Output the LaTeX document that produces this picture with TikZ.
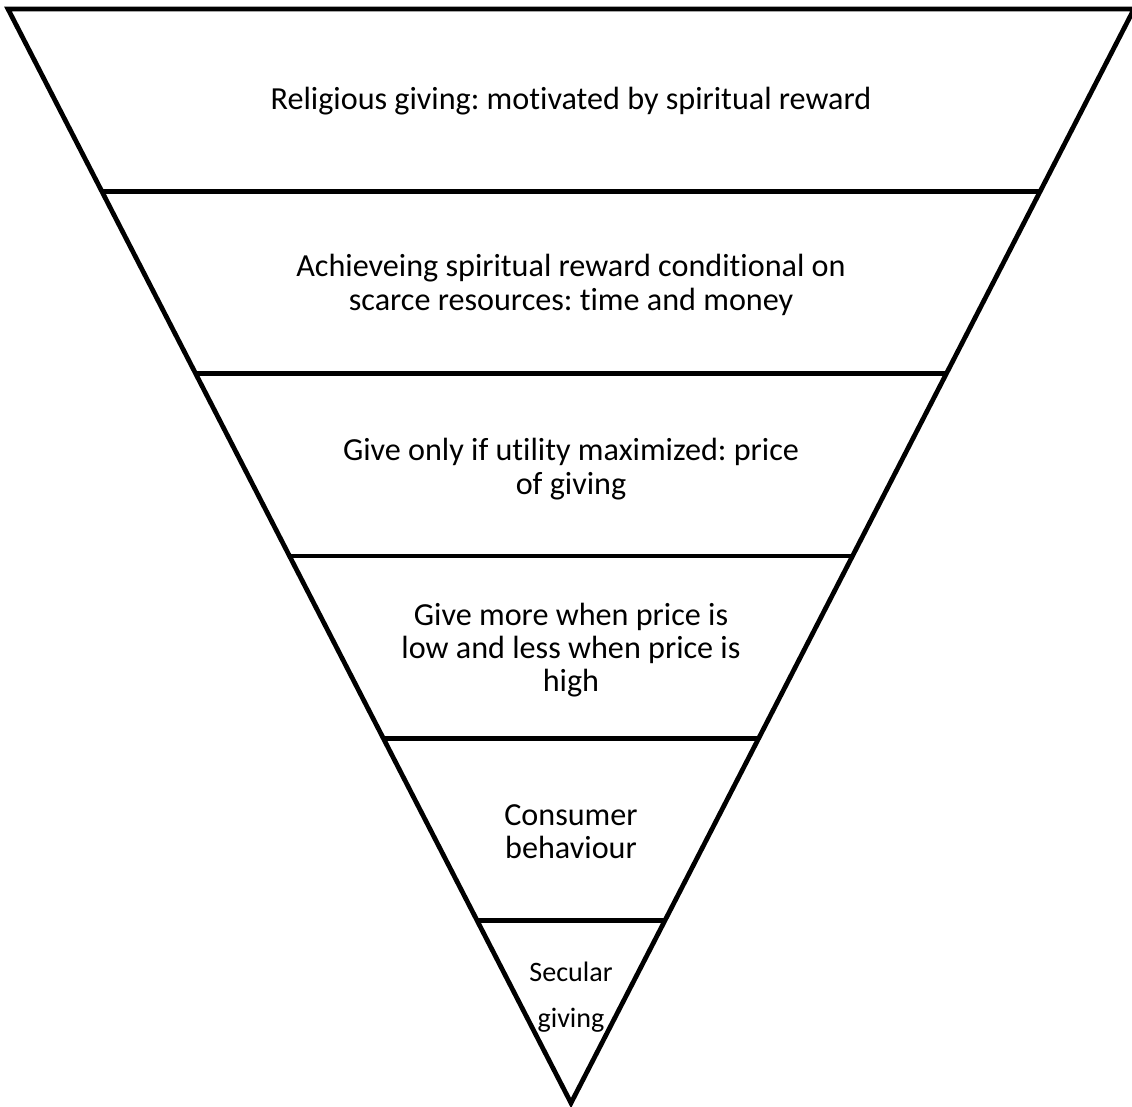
\documentclass[tikz,border=0pt]{standalone}
\usepackage{fontspec}
\setmainfont{Carlito}[Ligatures=NoCommon]
\usetikzlibrary{calc}
\frenchspacing

\begin{document}
\begin{tikzpicture}[
    x=0.02cm, y=-0.02cm,
    edge/.style={line width=2.7pt, line join=miter},
    bandtxt/.style={align=center, font=\fontsize{18.3}{18.9}\selectfont},
    tiptxt/.style={align=center, font=\fontsize{16}{16.5}\selectfont}
]

% fixed frame, same size as the reference
\useasboundingbox (0,0) rectangle (1132,1106);

% Funnel outline
\coordinate (tl) at (8,9);
\coordinate (tr) at (1134,9);
\coordinate (apex) at (571,1103);
\draw[edge] (tl) -- (tr) -- (apex) -- cycle;

% Band dividers (six equal bands)
\foreach \i in {1,...,5}
    \draw[edge] ($(tl)!\i/6!(apex)$) coordinate (l\i) -- ($(tr)!\i/6!(apex)$) coordinate (r\i);

% Band labels
\node[bandtxt] (religious) at (571,101) {Religious giving: motivated by spiritual reward};
\node[bandtxt] (scarce) at (571,285) {Achieveing spiritual reward conditional on\\scarce resources: time and money};
\node[bandtxt] (utility) at (571,469) {Give only if utility maximized: price\\of giving};
\node[bandtxt] (price) at (571,650) {Give more when price is\\low and less when price is\\high};
\node[bandtxt] (consumer) at (571,832) {Consumer\\behaviour};
\node[tiptxt] (secular) at (571,997) {Secular\\[10pt]giving};

\end{tikzpicture}
\end{document}
